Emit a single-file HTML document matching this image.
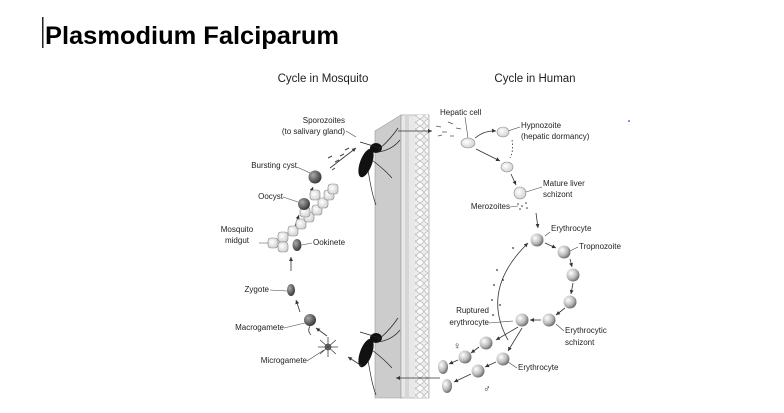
<!DOCTYPE html>
<html><head><meta charset="utf-8"><style>
html,body{margin:0;padding:0;background:#fff;width:784px;height:413px;overflow:hidden}
svg{display:block}
text{font-family:"Liberation Sans",sans-serif;fill:#222}
.s{font-size:8px}
</style></head><body>
<svg width="784" height="413" viewBox="0 0 784 413" xmlns="http://www.w3.org/2000/svg">
<defs>
<radialGradient id="g" cx="35%" cy="35%" r="70%"><stop offset="0" stop-color="#fff"/><stop offset="0.6" stop-color="#bbb"/><stop offset="1" stop-color="#666"/></radialGradient>
<radialGradient id="d" cx="35%" cy="35%" r="70%"><stop offset="0" stop-color="#aaa"/><stop offset="1" stop-color="#333"/></radialGradient>
<radialGradient id="l" cx="40%" cy="40%" r="70%"><stop offset="0" stop-color="#fff"/><stop offset="1" stop-color="#ccc"/></radialGradient>
<pattern id="cells" width="8" height="7" patternUnits="userSpaceOnUse"><rect width="8" height="7" fill="#eee"/><ellipse cx="4" cy="3.5" rx="3.3" ry="2.8" fill="#fafafa" stroke="#aaa" stroke-width="0.6"/></pattern>
<marker id="a" markerWidth="6" markerHeight="6" refX="5" refY="3" orient="auto"><path d="M0,0.5 L5,3 L0,5.5z" fill="#333"/></marker>
</defs>
<rect x="42" y="17" width="1.5" height="31" fill="#222"/>
<text x="45" y="44" style="font-size:25px;font-weight:bold;fill:#000" textLength="294" lengthAdjust="spacingAndGlyphs">Plasmodium Falciparum</text>

<text x="323" y="82" text-anchor="middle" style="font-size:11.5px">Cycle in Mosquito</text>
<text x="535" y="82" text-anchor="middle" style="font-size:11.5px">Cycle in Human</text>

<!-- wall -->
<polygon points="375,131 401,115 401,398 375,398" fill="#ccc" stroke="#999" stroke-width="0.6"/>
<rect x="401" y="115" width="28" height="283" fill="#e8e8e8" stroke="#999" stroke-width="0.6"/>
<rect x="405" y="115" width="4" height="283" fill="#d6d6d6"/>
<rect x="415" y="115" width="13" height="283" fill="url(#cells)"/>

<!-- mosquitoes -->
<g fill="#111">
<ellipse cx="366" cy="163" rx="6" ry="15" transform="rotate(20 366 163)"/>
<ellipse cx="376" cy="148" rx="6" ry="5"/>
<ellipse cx="366" cy="353" rx="6" ry="15" transform="rotate(20 366 353)"/>
<ellipse cx="376" cy="338" rx="6" ry="5"/>
</g>
<g stroke="#222" stroke-width="0.7" fill="none">
<path d="M378,150 Q390,140 398,128 M378,152 Q392,150 400,140 M372,160 Q385,170 392,178 M368,170 Q372,195 376,205 M380,148 L360,142"/>
<path d="M378,340 Q390,330 398,318 M378,342 Q392,340 400,330 M372,350 Q385,360 392,368 M368,360 Q372,385 376,395 M380,338 L360,332"/>
</g>

<path d="M398,131 L432,131" stroke="#333" stroke-width="0.8" marker-end="url(#a)" fill="none"/>
<path d="M440,378 L396,378" stroke="#333" stroke-width="0.8" marker-end="url(#a)" fill="none"/>
<path d="M362,366 L348,357" stroke="#333" stroke-width="0.8" marker-end="url(#a)" fill="none"/>
<path d="M327,336 L316,328" stroke="#333" stroke-width="0.8" marker-end="url(#a)" fill="none"/>
<path d="M300,312 L296,300" stroke="#333" stroke-width="0.8" marker-end="url(#a)" fill="none"/>
<path d="M291,271 L291,257" stroke="#333" stroke-width="0.8" marker-end="url(#a)" fill="none"/>
<path d="M295,226 L299,215" stroke="#333" stroke-width="0.8" marker-end="url(#a)" fill="none"/>
<path d="M310,195 L313,187" stroke="#333" stroke-width="0.8" marker-end="url(#a)" fill="none"/>
<path d="M330,168 L356,148" stroke="#333" stroke-width="0.8" marker-end="url(#a)" fill="none"/>
<g stroke="#444" stroke-width="1"><path d="M328,158l4,-2 M335,162l4,-2 M340,156l4,-2 M345,150l4,-2 M332,170l3,-2"/></g>

<g fill="url(#l)" stroke="#888" stroke-width="0.6">
<rect x="268" y="238" width="10" height="10" rx="3"/><rect x="278" y="232" width="10" height="10" rx="3"/><rect x="278" y="242" width="10" height="10" rx="3"/>
<rect x="288" y="226" width="10" height="10" rx="3"/><rect x="296" y="219" width="10" height="10" rx="3"/><rect x="304" y="212" width="10" height="10" rx="3"/>
<rect x="312" y="205" width="10" height="10" rx="3"/><rect x="318" y="198" width="10" height="10" rx="3"/><rect x="324" y="190" width="10" height="10" rx="3"/><rect x="328" y="184" width="10" height="10" rx="3"/>
<rect x="310" y="190" width="10" height="10" rx="3"/><rect x="300" y="207" width="10" height="10" rx="3"/>
</g>
<circle cx="315" cy="177" r="6.5" fill="url(#d)"/>
<circle cx="304" cy="204" r="6" fill="url(#d)"/>
<ellipse cx="297" cy="245" rx="4.5" ry="6" fill="url(#d)"/>
<ellipse cx="291" cy="290" rx="4" ry="6" fill="url(#d)"/>
<circle cx="310" cy="320" r="6" fill="url(#d)"/>
<path d="M310,326 q-3,5 1,9" stroke="#444" fill="none" stroke-width="0.8"/>
<g stroke="#444" stroke-width="0.8"><circle cx="328" cy="347" r="3" fill="#888"/><path d="M320,340l16,14 M336,340l-16,14 M328,337v20 M318,347h20"/></g>

<g class="s">
<text x="345" y="123" text-anchor="end">Sporozoites</text>
<text x="345" y="134" text-anchor="end">(to salivary gland)</text>
<text x="297" y="168" text-anchor="end">Bursting cyst</text>
<text x="283" y="199" text-anchor="end">Oocyst</text>
<text x="237" y="232" text-anchor="middle">Mosquito</text>
<text x="237" y="243" text-anchor="middle">midgut</text>
<text x="313" y="245">Ookinete</text>
<text x="269" y="292" text-anchor="end">Zygote</text>
<text x="284" y="330" text-anchor="end">Macrogamete</text>
<text x="307" y="363" text-anchor="end">Microgamete</text>
<text x="440" y="115">Hepatic cell</text>
<text x="521" y="128">Hypnozoite</text>
<text x="521" y="139">(hepatic dormancy)</text>
<text x="543" y="186">Mature liver</text>
<text x="543" y="197">schizont</text>
<text x="510" y="209" text-anchor="end">Merozoites</text>
<text x="551" y="231">Erythrocyte</text>
<text x="579" y="249">Tropnozoite</text>
<text x="489" y="313" text-anchor="end">Ruptured</text>
<text x="489" y="325" text-anchor="end">erythrocyte</text>
<text x="565" y="333">Erythrocytic</text>
<text x="565" y="345">schizont</text>
<text x="518" y="370">Erythrocyte</text>
</g>
<g stroke="#444" stroke-width="0.6" fill="none">
<path d="M346,131 L356,137 M297,167 L310,173 M283,197 L298,202 M259,243 L268,243 M312,243 L302,245 M270,290 L287,291 M284,328 L305,323 M307,361 L324,350"/>
<path d="M465,117 L468,138 M520,127 L508,131 M542,187 L526,192 M510,207 L518,206 M550,232 L545,236 M578,247 L570,251 M564,331 L556,324 M489,323 L513,321 M517,368 L508,362"/>
</g>

<g stroke="#555" stroke-width="0.8"><path d="M436,126l5,1 M442,132l5,0 M448,122l5,2 M450,136l4,0 M456,128l5,1 M438,136l4,-1"/></g>
<ellipse cx="468" cy="143" rx="7" ry="5" fill="url(#l)" stroke="#888" stroke-width="0.6"/>
<ellipse cx="503" cy="132" rx="6" ry="5" fill="url(#l)" stroke="#888" stroke-width="0.6"/>
<ellipse cx="507" cy="167" rx="6" ry="5" fill="url(#l)" stroke="#888" stroke-width="0.6"/>
<ellipse cx="520" cy="193" rx="6" ry="6" fill="url(#l)" stroke="#888" stroke-width="0.6"/>
<g fill="#333"><circle cx="518" cy="204" r="0.8"/><circle cx="522" cy="206" r="0.8"/><circle cx="526" cy="203" r="0.8"/><circle cx="520" cy="209" r="0.8"/><circle cx="527" cy="208" r="0.8"/></g>
<path d="M475,138 Q485,130 496,131" stroke="#333" fill="none" stroke-width="0.8" marker-end="url(#a)"/>
<path d="M476,149 L500,161" stroke="#333" fill="none" stroke-width="0.8" marker-end="url(#a)"/>
<path d="M512,140 Q514,150 510,158" stroke="#333" fill="none" stroke-width="0.8" stroke-dasharray="1.5,2"/>
<path d="M511,174 L516,185" stroke="#333" fill="none" stroke-width="0.8" marker-end="url(#a)"/>
<path d="M536,213 L538,228" stroke="#333" fill="none" stroke-width="0.8" marker-end="url(#a)"/>

<g fill="url(#g)">
<circle cx="537" cy="240" r="6.5"/><circle cx="564" cy="252" r="6.5"/><circle cx="573" cy="275" r="6.5"/>
<circle cx="570" cy="302" r="6.5"/><circle cx="549" cy="320" r="6.5"/><circle cx="522" cy="320" r="6.5"/>
<circle cx="486" cy="343" r="6.5"/><circle cx="465" cy="357" r="6.5"/><circle cx="503" cy="359" r="6.5"/><circle cx="478" cy="371" r="6.5"/>
<ellipse cx="443" cy="367" rx="5" ry="7"/><ellipse cx="447" cy="386" rx="5" ry="7"/>
</g>
<g stroke="#333" fill="none" stroke-width="0.8" marker-end="url(#a)">
<path d="M545,243 L556,248"/><path d="M570,259 L572,267"/><path d="M573,283 L571,294"/><path d="M565,308 L556,315"/><path d="M541,320 L530,320"/>
<path d="M518,327 L496,340"/><path d="M522,328 L508,351"/><path d="M479,347 L471,353"/><path d="M496,362 L485,367"/><path d="M458,360 L449,364"/><path d="M471,374 L454,382"/>
<path d="M508,340 Q480,290 528,243"/>
</g>
<g fill="#333"><circle cx="497" cy="270" r="0.9"/><circle cx="494" cy="285" r="0.9"/><circle cx="503" cy="280" r="0.9"/><circle cx="492" cy="300" r="0.9"/><circle cx="500" cy="305" r="0.9"/><circle cx="513" cy="248" r="0.9"/><circle cx="493" cy="315" r="0.9"/></g>
<text x="457" y="349" text-anchor="middle" style="font-size:10px">♀</text>
<text x="487" y="392" text-anchor="middle" style="font-size:10px">♂</text>
<circle cx="629" cy="121" r="0.8" fill="#00f"/>
</svg>
</body></html>
